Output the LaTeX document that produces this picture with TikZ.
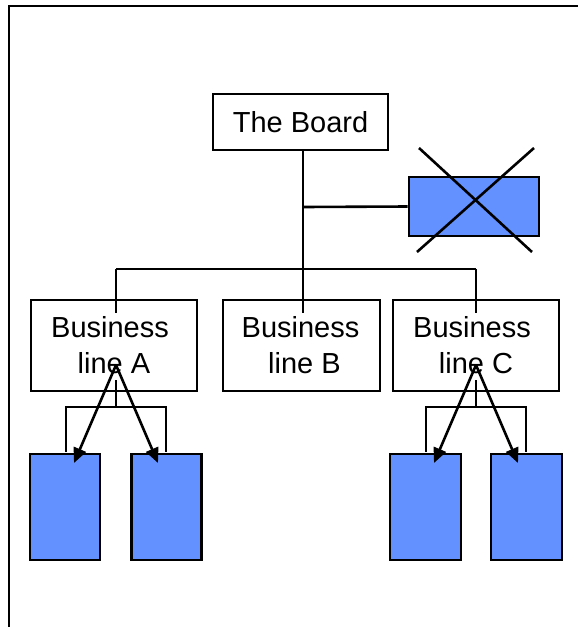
\documentclass[tikz,border=0pt]{standalone}
\usepackage{fontspec}
\setmainfont{Liberation Sans}
\usetikzlibrary{arrows.meta}
\definecolor{unitblue}{RGB}{99,145,255}
\begin{document}
\begin{tikzpicture}[x=1pt,y=-1pt,
  line width=2.6pt,
  orgbox/.style={draw=black, fill=white, inner sep=0pt},
  orgtext/.style={inner sep=0pt, align=center, font=\fontsize{29}{36}\selectfont},
  unit/.style={draw=black, fill=unitblue, inner sep=0pt},
  link/.style={draw=black, line width=2.6pt},
  report/.style={draw=black, line width=2.6pt, -{Triangle[length=15pt,width=13pt]}}]
\useasboundingbox (0,0) rectangle (578,627);
% outer frame
\draw[line width=2.2pt] (9,627) -- (9,6) -- (578,6);

% boxes
\node[orgbox, minimum width=175pt, minimum height=56pt] (board) at (300.5,122) {};
\node[orgtext] (board-t) at (board.center) {The Board};
\node[unit, minimum width=130pt, minimum height=59pt] (gone) at (474,206.5) {};
\node[orgbox, minimum width=166pt, minimum height=91pt] (bla) at (114,345.5) {};
\node[orgtext] (bla-t) at ([xshift=-4pt]bla.center) {Business\\\hspace*{8pt}line A};
\node[orgbox, minimum width=157pt, minimum height=91pt] (blb) at (301.5,345.5) {};
\node[orgtext] (blb-t) at ([xshift=-1pt]blb.center) {Business\\\hspace*{8pt}line B};
\node[orgbox, minimum width=166pt, minimum height=91pt] (blc) at (476,345.5) {};
\node[orgtext] (blc-t) at ([xshift=-4pt]blc.center) {Business\\\hspace*{8pt}line C};

\node[unit, minimum width=70pt, minimum height=106pt] (a1) at (65,507) {};
\node[unit, minimum width=70pt, minimum height=106pt] (a2) at (166.5,507) {};
\node[unit, minimum width=71pt, minimum height=106pt] (c1) at (425.5,507) {};
\node[unit, minimum width=71pt, minimum height=106pt] (c2) at (526.5,507) {};

% the crossed-out unit
\coordinate (xa) at (419,148);
\coordinate (xb) at (532,252);
\coordinate (xc) at (534,148);
\coordinate (xd) at (417,252);
\draw[link] (xa) -- (xb);
\draw[link] (xc) -- (xd);

% main hierarchy
\coordinate (trunk) at (303,207);
\coordinate (busmid) at (303,269);
\coordinate (busl) at (116,269);
\coordinate (busr) at (476,269);
\coordinate (ina) at (116,313);
\coordinate (inb) at (303,313);
\coordinate (inc) at (476,313);
\draw[link] (board.south -| trunk) -- (trunk) -- (busmid);
\draw[link] (trunk) -- (gone.west);
\draw[link] (busl) -- (busr);
\draw[link] (busl) -- (ina);
\draw[link] (busmid) -- (inb);
\draw[link] (busr) -- (inc);

% sub-units of line A
\coordinate (fa) at (116,380);
\coordinate (ja) at (116,407);
\coordinate (jal) at (66,407);
\coordinate (jar) at (166,407);
\coordinate (ea1) at (66,452);
\coordinate (ea2) at (166,452);
\draw[link] (fa) -- (ja);
\draw[link] (ea1) -- (jal) -- (jar) -- (ea2);
\coordinate (sa) at (116,365);
\coordinate (ta1) at (74,463);
\coordinate (ta2) at (158,463);
\draw[report] (sa) -- (ta1);
\draw[report] (sa) -- (ta2);

% sub-units of line C
\coordinate (fc) at (476,380);
\coordinate (jc) at (476,407);
\coordinate (jcl) at (426,407);
\coordinate (jcr) at (526,407);
\coordinate (ec1) at (426,452);
\coordinate (ec2) at (526,452);
\draw[link] (fc) -- (jc);
\draw[link] (ec1) -- (jcl) -- (jcr) -- (ec2);
\coordinate (sc) at (476,365);
\coordinate (tc1) at (434,463);
\coordinate (tc2) at (518,463);
\draw[report] (sc) -- (tc1);
\draw[report] (sc) -- (tc2);
\end{tikzpicture}
\end{document}
